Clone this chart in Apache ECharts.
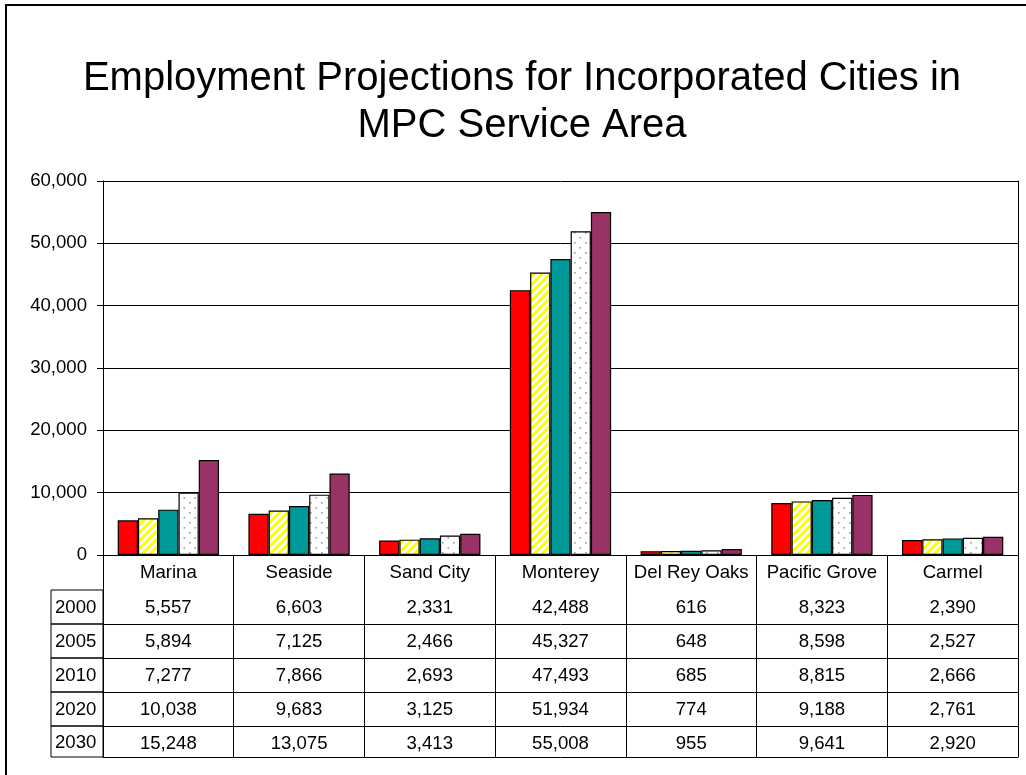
<!DOCTYPE html>
<html>
<head>
<meta charset="utf-8">
<title>Employment Projections</title>
<script src="https://cdn.jsdelivr.net/npm/echarts@6/dist/echarts.min.js"></script>
<style>
  html, body { margin: 0; padding: 0; background: #fff; }
  #chart { width: 1026px; height: 775px; }
</style>
</head>
<body>
<div id="chart"></div>
<script>
// Employment by city and projection year
const categories = ['Marina', 'Seaside', 'Sand City', 'Monterey', 'Del Rey Oaks', 'Pacific Grove', 'Carmel'];
const years = ['2000', '2005', '2010', '2020', '2030'];
const v2000 = [5557, 6603, 2331, 42488, 616, 8323, 2390];
const v2005 = [5894, 7125, 2466, 45327, 648, 8598, 2527];
const v2010 = [7277, 7866, 2693, 47493, 685, 8815, 2666];
const v2020 = [10038, 9683, 3125, 51934, 774, 9188, 2761];
const v2030 = [15248, 13075, 3413, 55008, 955, 9641, 2920];
const seriesValues = [v2000, v2005, v2010, v2020, v2030];
const yMin = 0, yMax = 60000, yStep = 10000;

const FONT = '"Liberation Sans", Arial, sans-serif';
const FS = 18.6;
const fmt = n => Number(n).toLocaleString('en-US');

// Layout of the plot and the data table beneath it
const GRID = { left: 103, right: 8, top: 181, bottom: 220 };
const ROW_OFFSETS = [35, 69, 103, 137, 171];   // table row tops below the axis
const TABLE_BOTTOM = 202;
const YEAR_COL_LEFT = 51;

// Fill patterns
function stripePattern() {
  const c = document.createElement('canvas');
  c.width = 8; c.height = 8;
  const g = c.getContext('2d');
  g.fillStyle = '#ffffff'; g.fillRect(0, 0, 8, 8);
  g.strokeStyle = '#ffff00'; g.lineWidth = 2.8;
  [-8, 0, 8].forEach(dx => {
    g.beginPath(); g.moveTo(dx - 1, 9); g.lineTo(dx + 9, -1); g.stroke();
  });
  return c;
}
function dotPattern() {
  const c = document.createElement('canvas');
  c.width = 11; c.height = 10;
  const g = c.getContext('2d');
  g.fillStyle = '#ffffff'; g.fillRect(0, 0, 11, 10);
  g.fillStyle = '#9a9a9a';
  g.fillRect(2, 2, 1.6, 1.6);
  g.fillRect(7.5, 7, 1.6, 1.6);
  return c;
}

const fills = [
  '#ff0000',
  { image: stripePattern(), repeat: 'repeat' },
  '#009999',
  { image: dotPattern(), repeat: 'repeat' },
  '#993366'
];

const chart = echarts.init(document.getElementById('chart'), null, { renderer: 'canvas' });

// One extra x axis per table row: its line is the row's top rule, its labels the row's values
const tableAxes = years.map((yr, i) => ({
  type: 'category',
  gridIndex: 0,
  position: 'bottom',
  offset: ROW_OFFSETS[i],
  data: seriesValues[i].map(fmt),
  boundaryGap: true,
  axisLine: { show: true, lineStyle: { color: '#000', width: 1 } },
  axisTick: { show: false },
  axisLabel: { interval: 0, margin: 8, color: '#000', fontSize: FS, fontFamily: FONT },
  splitLine: { show: false }
}));
tableAxes.push({
  type: 'category',
  gridIndex: 0,
  position: 'bottom',
  offset: TABLE_BOTTOM,
  data: categories,
  axisLine: { show: true, lineStyle: { color: '#000', width: 1 } },
  axisTick: { show: false },
  axisLabel: { show: false },
  splitLine: { show: false }
});

// Year column at the left of the table
const yearCells = [];
const rowBottoms = ROW_OFFSETS.slice(1).concat([TABLE_BOTTOM]);
const axisY = 775 - GRID.bottom;
years.forEach((yr, i) => {
  const top = axisY + ROW_OFFSETS[i];
  const h = rowBottoms[i] - ROW_OFFSETS[i];
  yearCells.push({
    type: 'rect',
    shape: { x: YEAR_COL_LEFT, y: top, width: GRID.left - YEAR_COL_LEFT, height: h },
    style: { fill: 'none', stroke: '#000', lineWidth: 1 },
    silent: true
  });
  yearCells.push({
    type: 'text',
    x: YEAR_COL_LEFT + 4,
    y: top + h / 2 + 1,
    style: { text: yr, fill: '#000', font: FS + 'px ' + FONT, textAlign: 'left', textVerticalAlign: 'middle' },
    silent: true
  });
});

const option = {
  backgroundColor: '#ffffff',
  animation: false,
  title: {
    text: 'Employment Projections for Incorporated Cities in\nMPC Service Area',
    left: 522,
    top: 55,
    padding: 0,
    textAlign: 'center',
    textStyle: { fontSize: 40, fontWeight: 'normal', color: '#000', fontFamily: FONT, lineHeight: 47 }
  },
  grid: { left: GRID.left, right: GRID.right, top: GRID.top, bottom: GRID.bottom, containLabel: false },
  xAxis: [{
    type: 'category',
    gridIndex: 0,
    position: 'bottom',
    data: categories,
    boundaryGap: true,
    axisLine: { show: true, lineStyle: { color: '#000', width: 1 } },
    axisTick: { show: true, interval: 0, length: TABLE_BOTTOM, lineStyle: { color: '#000', width: 1 } },
    axisLabel: { interval: 0, margin: 8, color: '#000', fontSize: FS, fontFamily: FONT },
    splitLine: { show: false }
  }].concat(tableAxes),
  yAxis: [{
    type: 'value',
    min: yMin,
    max: yMax,
    interval: yStep,
    axisLine: { show: true, lineStyle: { color: '#000', width: 1 } },
    axisTick: { show: true, length: 6, lineStyle: { color: '#000', width: 1 } },
    axisLabel: { margin: 16, color: '#000', fontSize: FS, fontFamily: FONT, formatter: v => fmt(v) },
    splitLine: { show: true, lineStyle: { color: '#000', width: 1 } }
  }, {
    type: 'value',
    position: 'right',
    min: yMin,
    max: yMax,
    interval: yStep,
    axisLine: { show: true, lineStyle: { color: '#000', width: 1 } },
    axisTick: { show: false },
    axisLabel: { show: false },
    splitLine: { show: false }
  }],
  series: years.map((yr, i) => ({
    name: yr,
    type: 'bar',
    xAxisIndex: 0,
    yAxisIndex: 0,
    data: seriesValues[i],
    barWidth: '15.5%',
    barGap: '0%',
    itemStyle: { color: fills[i], borderColor: '#000', borderWidth: 1.2 },
    emphasis: { disabled: true }
  })),
  graphic: [{
    type: 'rect',
    shape: { x: 6, y: 5, width: 1200, height: 900 },
    style: { fill: 'none', stroke: '#000', lineWidth: 2 },
    silent: true,
    z: 100
  }].concat(yearCells)
};

chart.setOption(option);
</script>
</body>
</html>
